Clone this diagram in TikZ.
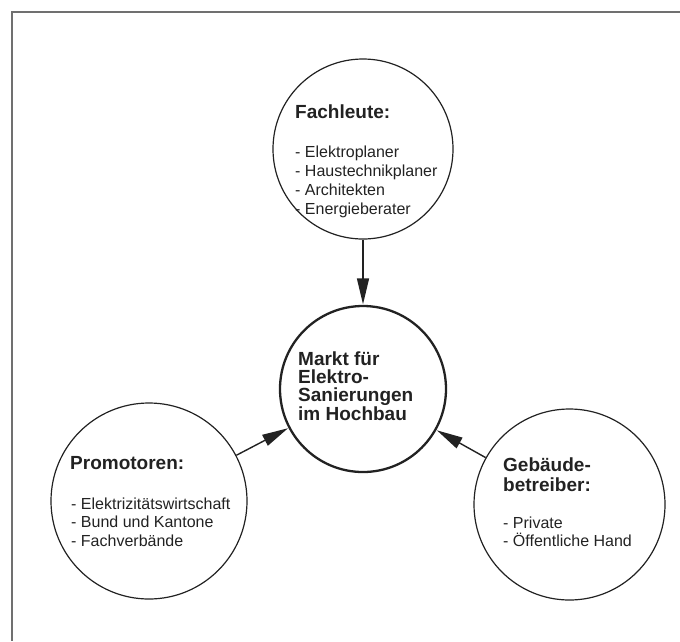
\documentclass[tikz,border=0pt]{standalone}
\usepackage{fontspec}
\setmainfont{Liberation Sans}
\usetikzlibrary{arrows.meta}
\definecolor{ink}{HTML}{222222}
\definecolor{framegray}{HTML}{707070}
\tikzset{
  ring/.style={circle, draw=ink, line width=1.2pt, inner sep=0pt},
  mainring/.style={circle, draw=ink, line width=2.3pt, inner sep=0pt},
  head/.style={anchor=base west, inner sep=0pt, text=ink, font=\fontsize{19}{19}\selectfont\bfseries},
  item/.style={anchor=base west, inner sep=0pt, text=ink, font=\fontsize{16}{16}\selectfont},
  link/.style={draw=ink, line width=1.4pt, -{Triangle[length=26pt, width=12pt]}, shorten >=0.5pt},
}
\begin{document}
\begin{tikzpicture}[x=1pt, y=-1pt]
\useasboundingbox (0,0) rectangle (680,641);
% frame
\coordinate (fc) at (12,12);
\coordinate (fr) at (680,12);
\coordinate (fb) at (12,641);
\draw[framegray, line width=1.5pt] (fr) -- (fc) -- (fb);

% circles
\node[ring, minimum size=180pt] (top) at (363,149) {};
\node[mainring, minimum size=166pt] (mid) at (363,389) {};
\node[ring, minimum size=196pt] (left) at (149,501) {};
\node[ring, minimum size=191pt] (right) at (569.5,504.5) {};

% top texts
\node[head] (t0) at (295,118.3) {Fachleute:};
\node[item] (t1) at (295,157.3) {- Elektroplaner};
\node[item] (t2) at (295,176.2) {- Haustechnikplaner};
\node[item] (t3) at (295,195.1) {- Architekten};
\node[item] (t4) at (295,214) {- Energieberater};

% centre texts
\node[head] (m1) at (298,365) {Markt für};
\node[head] (m2) at (298,383.3) {Elektro-};
\node[head] (m3) at (298,401.7) {Sanierungen};
\node[head] (m4) at (298,420) {im Hochbau};

% left texts
\node[head] (l0) at (70,469) {Promotoren:};
\node[item] (l1) at (71,509) {- Elektrizitätswirtschaft};
\node[item] (l2) at (71,527.8) {- Bund und Kantone};
\node[item] (l3) at (71,546.6) {- Fachverbände};

% right texts
\node[head] (r0) at (503,471.7) {Gebäude-};
\node[head] (r1) at (503,491) {betreiber:};
\node[item] (r2) at (503,528) {- Private};
\node[item] (r3) at (503,546.7) {- Öffentliche Hand};

% connectors
\draw[link] (top) -- (mid);
\draw[link] (left) -- (mid);
\draw[link] (right) -- (mid);
\end{tikzpicture}
\end{document}
